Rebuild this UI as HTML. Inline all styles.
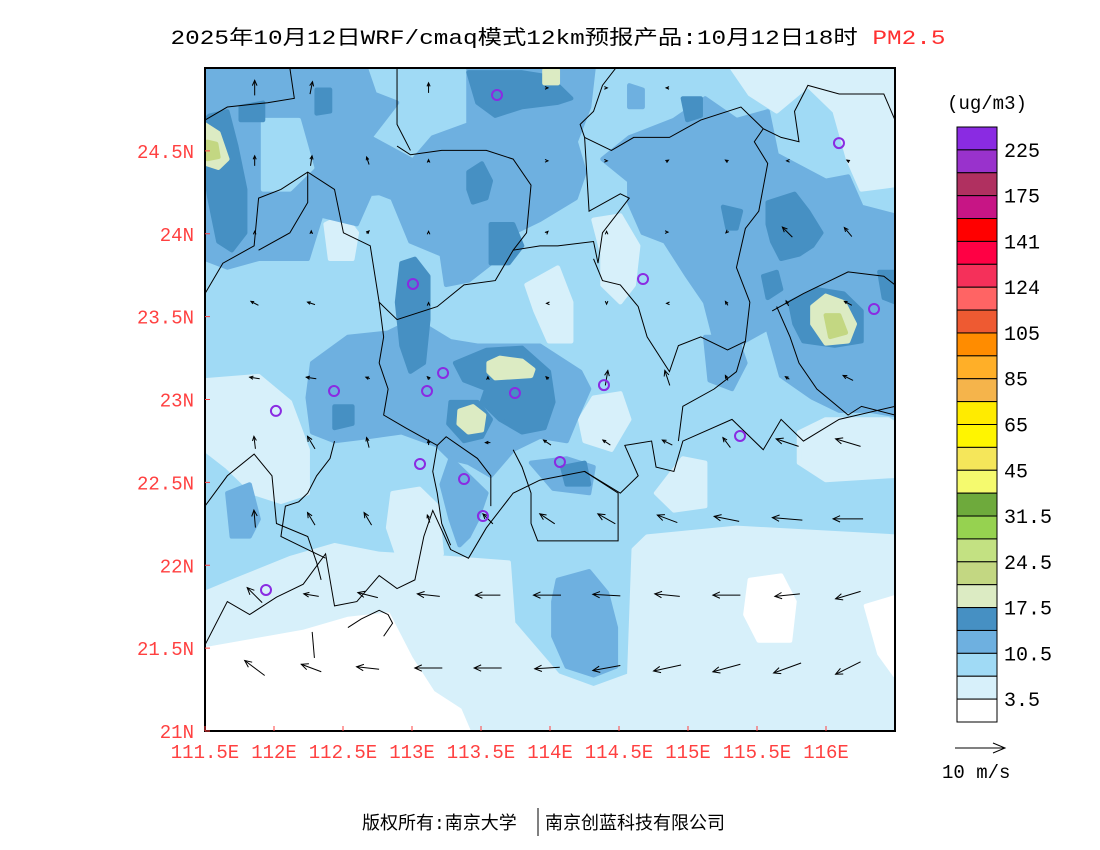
<!DOCTYPE html>
<html><head><meta charset="utf-8"><style>
html,body{margin:0;padding:0;background:#fff;width:1100px;height:850px;overflow:hidden}
svg text{font-family:"Liberation Mono","Noto Sans CJK SC",monospace}
</style></head><body>
<svg id="s" width="1100" height="850" xmlns="http://www.w3.org/2000/svg">
<defs><clipPath id="mc"><rect x="205" y="68" width="690" height="663"/></clipPath></defs>
<text x="558" y="44" text-anchor="middle" font-size="20" textLength="775" lengthAdjust="spacingAndGlyphs">2025年10月12日WRF/cmaq模式12km预报产品:10月12日18时 <tspan fill="#ff3030">PM2.5</tspan></text>
<g clip-path="url(#mc)">
<rect x="205" y="68" width="690" height="663" fill="#a0daf5"/>
<g id="fill" transform="translate(200.53,59.32) scale(0.4466,0.4338)"></g>
<g id="lines" transform="translate(200.53,59.32) scale(0.4466,0.4338)" fill="none" stroke="#000"></g>
<g id="wind" stroke="#000" fill="none" stroke-width="1"></g>
<g id="stations" fill="none" stroke="#8a2be2" stroke-width="2"></g>
</g>
<rect x="205" y="68" width="690" height="663" fill="none" stroke="#000" stroke-width="2"/>
<g id="axes" font-size="19" fill="#ff4040"></g>
<g id="cbar"></g>
<text x="987" y="109" text-anchor="middle" font-size="19">(ug/m3)</text>
<g>
<line x1="955" y1="748" x2="1005" y2="748" stroke="#000"/>
<polyline points="993,743 1005,748 993,753" fill="none" stroke="#000"/>
<text x="942" y="778" font-size="19">10 m/s</text>
</g>
<text x="362" y="829" font-size="18">版权所有:南京大学</text>
<line x1="538" y1="808" x2="538" y2="836" stroke="#000"/>
<text x="545" y="829" font-size="18">南京创蓝科技有限公司</text>
</svg>
<script>
const NS="http://www.w3.org/2000/svg";
const cbColors=["#8a2be2","#9932cc","#b03060","#c71585","#ff0000","#ff0044","#f5305a","#ff6464","#ee5a32","#ff8c00","#ffaf28","#f5b44b","#ffeb00","#fff500","#f5e65a","#f5fa6e","#6eaa3c","#96d250","#c3e182","#c3d782","#dcebc3","#4690c3","#6eb0e0","#a0daf5","#d7f0fa","#ffffff"];
const cbLabels=["225","175","141","124","105","85","65","45","31.5","24.5","17.5","10.5","3.5"];
const windLon=[111.86,112.27,112.68,113.12,113.55,113.98,114.41,114.85,115.28,115.72,116.16];
const windLat=[21.38,21.82,22.28,22.74,23.13,23.58,24.01,24.44,24.88];
const windU=[
[-4,-4,-4.5,-5.5,-5.5,-5,-5.5,-5.5,-5.5,-5.5,-5],
[-3,-3,-4,-4.5,-5,-5.5,-5.5,-5,-5.5,-5,-5],
[-0.3,-1.5,-1.5,-0.5,-2,-3,-3.5,-4,-5,-6,-6],
[-0.3,-1.5,-0.5,0,-1,-1.5,-1.5,-2,-1.5,-4.5,-5],
[-2,-2,-0.8,-0.5,0,-0.5,0.5,-1,-0.5,-0.8,-2],
[-1.5,-1.5,0,0,0,-0.3,0,-0.3,-0.5,-0.5,-1.5],
[0,0,0.5,0,0,0.3,0,0.3,-0.3,-2,-1.5],
[0,0.3,-0.5,0,0,0.3,0.3,0.5,-0.5,-0.3,-0.5],
[0,0.5,0,0,0,0.3,0.3,-0.5,0,0,0]];
const windV=[
[3,1.5,0.5,0,0,-0.3,-1,-1.2,-1.5,-2,-2.5],
[3,0.5,1,0.5,0,0,0.3,0.5,0,-0.5,-1.5],
[3.5,2.5,2.5,1.5,2,2,2,1.5,1,0.5,0],
[2.5,2.5,2,1,0,1,1,1,2,1.5,1.5],
[0.3,0.3,0.3,0.5,0.5,0.5,3,3,1,0.5,1],
[0.8,0.5,0,0.3,0,0,-0.3,0,0.8,1,0.8],
[0.3,0.5,0.5,0.3,0,0.3,0.3,0,-0.3,2,1.8],
[2,2,1.5,0.5,0,0,0,0.3,0.3,0,0.3],
[3,2.5,0,2,0,0,0,0,0,0,0]];
const stationLon=[113.616,116.094,113.007,114.674,116.348,113.225,112.435,113.109,113.746,114.391,112.014,115.377,113.058,114.072,113.377,113.514,111.942];
const stationLat=[24.837,24.547,23.697,23.727,23.546,23.16,23.051,23.051,23.039,23.087,22.931,22.78,22.611,22.623,22.52,22.297,21.851];
const lonTicks=[111.5,112,112.5,113,113.5,114,114.5,115,115.5,116];
const latTicks=[21,21.5,22,22.5,23,23.5,24,24.5];
const X=lon=>205+(lon-111.5)*138;
const Y=lat=>731-(lat-21)*165.75;

const cb=document.getElementById('cbar');
const top0=127,bh=595/cbColors.length;
cbColors.forEach((c,i)=>{const r=document.createElementNS(NS,'rect');
r.setAttribute('x',957);r.setAttribute('y',top0+i*bh);r.setAttribute('width',40);r.setAttribute('height',bh);
r.setAttribute('fill',c);r.setAttribute('stroke','#000');r.setAttribute('stroke-width','1');


cb.appendChild(r);});
cbLabels.forEach((l,i)=>{const t=document.createElementNS(NS,'text');
t.setAttribute('x',1004);t.setAttribute('y',top0+(2*i+1)*bh+7);t.setAttribute('font-size','20');t.textContent=l;


cb.appendChild(t);});

const ax=document.getElementById('axes');
lonTicks.forEach(v=>{const t=document.createElementNS(NS,'text');
t.setAttribute('x',X(v));t.setAttribute('y',758);t.setAttribute('text-anchor','middle');t.textContent=v+'E';


ax.appendChild(t);
const k=document.createElementNS(NS,'line');k.setAttribute('x1',X(v));k.setAttribute('x2',X(v));k.setAttribute('y1',731);k.setAttribute('y2',726);k.setAttribute('stroke','#ff4040');


ax.appendChild(k);});
latTicks.forEach(v=>{const t=document.createElementNS(NS,'text');
t.setAttribute('x',194);t.setAttribute('y',Y(v)+7);t.setAttribute('text-anchor','end');t.textContent=v+'N';


ax.appendChild(t);
const k=document.createElementNS(NS,'line');k.setAttribute('x1',205);k.setAttribute('x2',210);k.setAttribute('y1',Y(v));k.setAttribute('y2',Y(v));k.setAttribute('stroke','#ff4040');


ax.appendChild(k);});

const polys=[
["#d7f0fa","10,1230 80,1200 200,1150 300,1120 400,1140 560,1150 690,1160 700,1300 800,1420 880,1450 960,1420 970,1130 1000,1100 1200,1080 1555,1100 1555,1548 10,1548"],
["#d7f0fa","10,740 130,730 200,790 240,900 240,1000 180,1020 120,1000 60,940 10,900"],
["#d7f0fa","430,1000 490,990 530,1030 540,1140 440,1140 420,1080"],
["#d7f0fa","1340,860 1400,830 1540,830 1555,840 1555,960 1400,970 1340,930"],
["#d7f0fa","1020,1000 1080,920 1130,930 1130,1030 1060,1040"],
["#d7f0fa","1190,20 1555,20 1555,290 1480,300 1450,230 1420,120 1360,60 1290,120 1230,80"],
["#d7f0fa","730,520 800,480 830,560 830,650 780,650 750,580"],
["#d7f0fa","880,370 940,360 980,430 970,520 940,560 900,520 900,450"],
["#d7f0fa","280,380 320,360 350,400 340,460 290,460"],
["#d7f0fa","880,780 940,770 960,830 920,900 860,880 850,830"],
["#ffffff","10,1360 120,1340 230,1320 330,1290 420,1280 470,1380 520,1460 580,1500 600,1548 10,1548"],
["#ffffff","1230,1200 1300,1190 1330,1250 1320,1340 1250,1340 1220,1280"],
["#ffffff","1490,1260 1555,1240 1555,1420 1520,1370"],
["#ffffff","340,1500 380,1510 370,1540 330,1535"],
["#6eb0e0","10,20 370,20 390,80 440,100 380,180 470,230 500,300 380,310 350,380 270,360 240,460 130,460 60,480 10,460"],
["#a0daf5","140,140 220,140 250,250 200,300 140,300"],
["#6eb0e0","600,20 880,20 870,110 840,190 860,260 840,320 760,370 700,400 650,470 600,510 550,520 540,450 470,420 430,320 380,300 470,240 520,180 600,150"],
["#6eb0e0","250,700 330,640 420,630 480,600 560,650 620,660 760,660 850,720 870,760 840,830 820,880 760,870 700,900 650,960 600,930 560,920 530,890 450,860 380,870 300,880 250,860 240,780"],
["#6eb0e0","560,920 600,960 640,1000 620,1060 600,1100 580,1120 560,1060 540,980"],
["#6eb0e0","900,230 960,180 1060,140 1130,90 1200,140 1270,120 1290,220 1400,280 1450,270 1480,340 1555,360 1555,820 1500,810 1430,810 1370,780 1300,730 1270,620 1200,660 1150,640 1130,560 1090,500 1040,420 990,400 960,330 960,280"],
["#6eb0e0","1130,640 1200,640 1220,700 1190,760 1140,740"],
["#6eb0e0","800,1200 870,1180 910,1230 930,1310 930,1400 880,1420 820,1400 790,1330 790,1250"],
["#6eb0e0","60,1000 110,980 130,1060 110,1100 70,1100"],
["#6eb0e0","740,930 820,920 880,940 870,1000 790,990"],
["#6eb0e0","960,60 990,70 990,110 960,110"],
["#4690c3","20,130 60,120 80,200 100,300 100,400 70,440 40,420 20,320 10,250 10,140"],
["#4690c3","90,110 140,100 140,140 90,140"],
["#4690c3","260,70 290,70 290,120 260,125"],
["#4690c3","600,30 720,30 780,40 830,90 800,100 720,110 660,130 620,100"],
["#4690c3","600,260 630,240 650,280 640,320 610,330 600,300"],
["#4690c3","450,470 480,460 510,500 510,600 500,700 470,720 450,660 440,560"],
["#4690c3","570,700 640,670 720,665 780,720 790,790 770,850 720,860 670,830 630,790 640,760 590,740"],
["#4690c3","560,790 620,790 650,830 630,870 590,880 555,840"],
["#4690c3","300,800 340,800 340,840 300,850"],
["#4690c3","650,380 700,380 720,430 690,470 650,470"],
["#4690c3","1270,330 1330,310 1360,350 1390,400 1370,430 1340,450 1300,460 1280,420 1270,380"],
["#4690c3","1320,560 1380,530 1440,540 1480,580 1480,650 1420,660 1350,650 1330,610"],
["#4690c3","1520,490 1555,490 1555,560 1530,550"],
["#4690c3","1080,90 1120,90 1120,130 1090,140"],
["#4690c3","1170,340 1210,350 1200,390 1180,390"],
["#4690c3","1260,500 1290,490 1300,530 1270,550"],
["#4690c3","810,940 860,930 870,980 820,980"],
["#dcebc3","10,150 40,170 60,230 40,250 10,240"],
["#dcebc3","770,25 800,25 800,55 770,55"],
["#dcebc3","1370,570 1400,545 1440,560 1465,610 1450,650 1400,655 1370,610"],
["#c3d782","1400,590 1430,590 1445,630 1410,640"],
["#c3d782","15,190 35,195 40,225 15,230"],
["#dcebc3","645,700 670,688 720,695 745,715 740,730 660,735 645,720"],
["#dcebc3","580,810 610,800 635,820 630,855 600,860 578,840"]];
const fg=document.getElementById('fill');
polys.forEach(p=>{const e=document.createElementNS(NS,'polygon');e.setAttribute('points',p[1]);e.setAttribute('fill',p[0]);
e.setAttribute('stroke',p[0]);e.setAttribute('stroke-width','10');e.setAttribute('stroke-linejoin','round');


fg.appendChild(e);});

const lines=[
"10,1350 60,1250 110,1280 170,1240 230,1210 280,1140 300,1260 350,1250 400,1190 440,1220 480,1200 500,1100 520,1040 560,1130 600,1150 640,1080 700,1000 760,970 860,950 940,1000 980,960 950,890 1010,880 1020,940 1060,950 1080,880 1190,830 1260,900 1300,830 1350,880 1430,830 1555,800",
"10,540 50,470 120,430 130,320 180,300 240,260 300,300 320,400 380,430 400,560 440,600 530,570 590,520 660,510 700,440 760,430 800,430 880,420 890,470 900,400 960,320 940,310 870,350 860,180 850,150 880,120 900,60 930,20",
"440,200 470,220 540,210 640,210 700,230 740,290 730,400 700,440",
"440,20 440,150 470,210",
"200,20 210,90 150,100 60,110 10,140",
"860,180 920,210 970,180 1050,180 1120,140 1210,110 1260,160 1300,180 1340,190 1330,120 1360,60 1430,80 1530,80 1555,140",
"1260,160 1240,190 1270,240 1250,350 1220,390 1200,480 1230,560 1220,650 1180,670 1120,640 1070,660 1050,720 1000,640 980,570 940,520 900,510 880,460",
"1290,570 1320,640 1340,700 1380,760 1450,820 1480,800 1555,820",
"1280,580 1350,540 1450,490 1530,500 1555,520",
"1220,650 1200,720 1150,760 1080,800 1070,880",
"400,560 410,640 400,700 420,760 410,820 460,850 530,890 550,870 620,920 650,960 650,1030",
"10,1030 60,960 120,910 160,960 170,1070 240,1100 260,1160 270,1200",
"240,260 240,330 200,400 130,440",
"300,880 290,920 260,960 240,1000 220,1020 190,1030 180,1100 240,1130 280,1150",
"530,890 520,950 530,1000 540,1070 560,1120",
"860,950 935,1000 935,1110 755,1110 740,1070",
"700,900 720,940 740,1000 740,1070",
"250,1320 255,1380",
"330,1310 360,1290 400,1270 420,1280 430,1300 410,1330"];
const lg=document.getElementById('lines');
lines.forEach(p=>{const e=document.createElementNS(NS,'polyline');e.setAttribute('points',p);
e.setAttribute('vector-effect','non-scaling-stroke');e.setAttribute('stroke-width','1');


lg.appendChild(e);});

const wg=document.getElementById('wind');const sc=5;
windLat.forEach((la,r)=>windLon.forEach((lo,c)=>{
const u=windU[r][c],v=windV[r][c];const cx=X(lo),cy=Y(la);
const dx=u*sc,dy=-v*sc;const L=Math.hypot(dx,dy);
const g=document.createElementNS(NS,'g');


const x1=cx-dx/2,y1=cy-dy/2,x2=cx+dx/2,y2=cy+dy/2;
const l=document.createElementNS(NS,'line');l.setAttribute('x1',x1);l.setAttribute('y1',y1);l.setAttribute('x2',x2);l.setAttribute('y2',y2);g.appendChild(l);
if(L>0.5){const ux=dx/L,uy=dy/L,h=Math.min(7,Math.max(3,L*0.35));
const a=document.createElementNS(NS,'polyline');
a.setAttribute('points',`${x2-h*ux-h*0.45*uy},${y2-h*uy+h*0.45*ux} ${x2},${y2} ${x2-h*ux+h*0.45*uy},${y2-h*uy-h*0.45*ux}`);g.appendChild(a);}
wg.appendChild(g);}));

const sg=document.getElementById('stations');
stationLon.forEach((lo,i)=>{const c=document.createElementNS(NS,'circle');
c.setAttribute('cx',X(lo));c.setAttribute('cy',Y(stationLat[i]));c.setAttribute('r',5);


sg.appendChild(c);});
</script>
</body></html>
